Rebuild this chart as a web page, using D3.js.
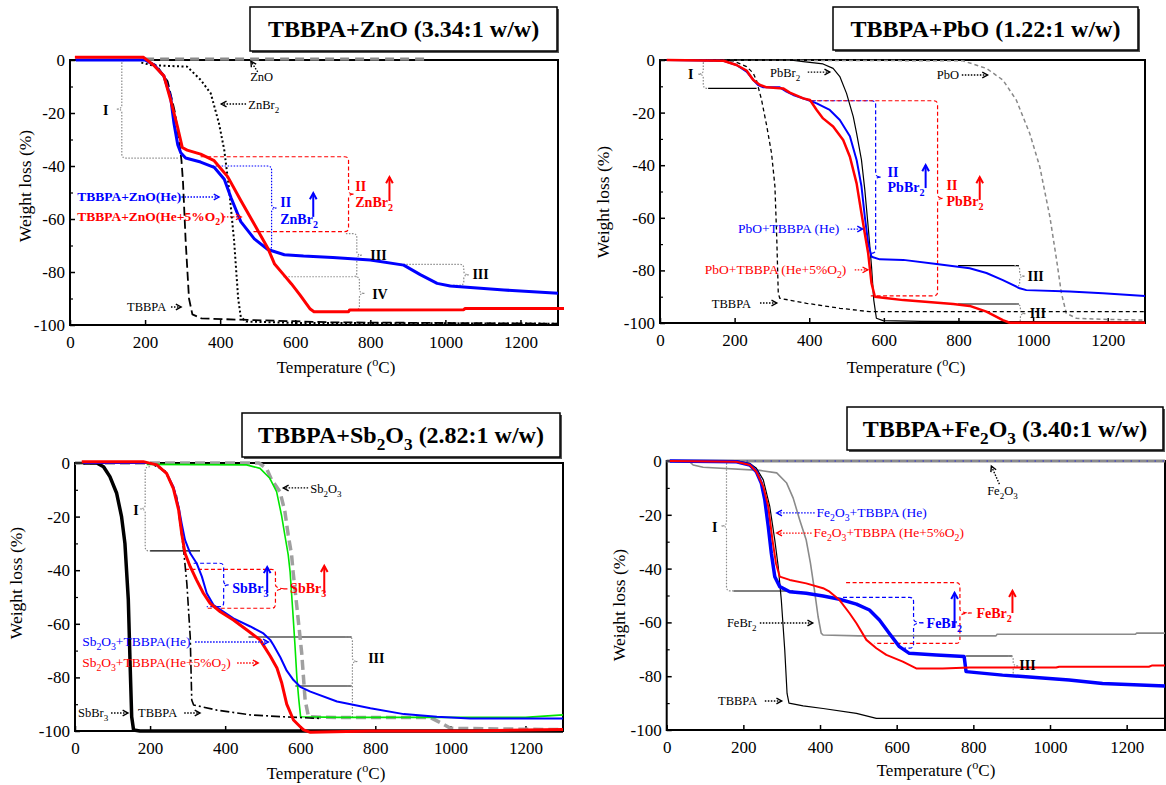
<!DOCTYPE html>
<html><head><meta charset="utf-8">
<script src="https://cdn.jsdelivr.net/npm/d3@7"></script>
<style>body{margin:0;background:#fff}svg{display:block}text{font-family:"Liberation Serif","Times New Roman",serif}</style>
</head><body><svg id="c" width="1166" height="785"></svg>
<script>
// ================= DATA =================
const xTicks = [0,200,400,600,800,1000,1200];
const yTicks = [0,-20,-40,-60,-80,-100];
const yMinor = [-10,-30,-50,-70,-90];
const titles = ["TBBPA+ZnO (3.34:1 w/w)","TBBPA+PbO (1.22:1 w/w)","TBBPA+Sb_2O_3 (2.82:1 w/w)","TBBPA+Fe_2O_3 (3.40:1 w/w)"];
const xLabel = "Temperature (^oC)";
const yLabel = "Weight loss (%)";

// ---- Panel 1: ZnO ----
const zno_he = [[15,0],[200,0],[225,-2],[250,-6],[268,-14],[277,-24],[287,-32],[295,-35],[308,-37],[348,-38.5],[384,-40.5],[411,-45],[429,-52],[455,-61],[491,-67.5],[527,-71.5],[571,-73.5],[622,-74],[700,-74.5],[800,-75.5],[889,-77.4],[933,-81],[978,-84.3],[1013,-85.3],[1156,-86.8],[1300,-88]];
const zno_o2 = [[13,1],[196,1],[223,-2],[250,-6],[268,-15],[286,-25],[299,-33],[312,-34],[348,-35.5],[384,-38],[420,-44],[455,-53],[491,-62],[527,-71],[545,-77],[569,-81],[590,-84.5],[613,-88.7],[640,-94],[650,-95],[742,-95],[745,-94.3],[1049,-94.2],[1052,-93.8],[1316,-93.8]];
const zno_tbbpa = [[0,0],[200,0],[230,-2],[260,-8],[280,-20],[292,-32],[297,-38],[301,-46],[308,-68],[317,-90],[326,-96],[350,-97.5],[450,-98],[700,-99],[1300,-99.5]];
const zno_znbr2 = [[190,-1],[220,-2],[312,-2.5],[348,-7.5],[375,-12.6],[397,-24],[411,-34],[424,-49],[437,-68],[448,-90],[455,-97],[469,-98.7],[600,-99.2],[1300,-99.5]];
const zno_zno = [[200,0.3],[950,0.3]];
const zno_labels = [
 ["ZnO",480,-7.9,'k','s'],["ZnBr_2",475,-18.5,'k','s'],
 ["TBBPA+ZnO(He)",19,-53.2,'b','cb'],["TBBPA+ZnO(He+5%O_2)",19,-60.8,'r','cb'],
 ["TBBPA",152,-94.7,'k','s'],["I",88,-20.8,'k','R'],
 ["II",560,-55.5,'b','R'],["ZnBr_2",560,-61.9,'b','R'],
 ["II",760,-49.4,'r','R'],["ZnBr_2",760,-55.5,'r','R'],
 ["III",800,-75.5,'k','R'],["IV",805,-90.2,'k','R'],["III",1072,-82.6,'k','R']];
const zno_arrows = [[500,-4.5,482,-0.5,'k','d'],[469,-16.6,403,-16.6,'k','d'],[297,-51.7,397,-51.7,'b','d'],[410,-59.2,456,-59.2,'r','d'],[269,-93.2,296,-93.2,'k','d'],[648,-59.2,648,-50.2,'b','s'],[851,-53.2,851,-44.2,'r','s']];
const zno_brackets = [[138,0,-37,160,290,-1,'g'],[537,-40,-71.7,380,525,1,'bdot'],[742,-36.5,-64.8,348,488,1,'rd'],[764,-65.5,-81.8,735,568,1,'g'],[771,-81.8,-94.3,764,740,1,'g'],[1049,-77.1,-85,880,1013,1,'g']];
const zno_refs = [];

// ---- Panel 2: PbO ----
const pbo_he = [[18,0],[170,-0.3],[205,-1.9],[232,-4.4],[250,-7.6],[263,-9.5],[277,-10.4],[321,-10.4],[339,-12],[357,-13.3],[393,-15],[420,-16.5],[455,-19],[482,-22.8],[509,-29],[527,-38],[540,-48],[549,-59.6],[558,-69.7],[567,-74.8],[589,-75.8],[652,-76],[741,-77.6],[830,-79.2],[875,-81],[919,-83.7],[964,-86.8],[982,-87.5],[1098,-88],[1187,-88.7],[1300,-89.7]];
const pbo_o2 = [[18,0],[170,-0.3],[205,-1.9],[232,-4],[250,-7.6],[268,-9.5],[286,-10.4],[330,-10.8],[348,-12.4],[384,-14.6],[402,-15.2],[420,-19],[437,-22.2],[464,-25.3],[491,-30.4],[509,-36.8],[527,-46.9],[540,-58.3],[549,-66],[558,-73.5],[567,-84.9],[576,-90],[598,-90.4],[652,-91.3],[786,-92.8],[830,-93.5],[875,-95.7],[919,-98.9],[937,-99.9],[1300,-99.9]];
const pbo_pbbr2 = [[0,0],[348,0],[384,-0.6],[437,-1.5],[464,-3.2],[482,-6.3],[500,-12.7],[518,-21.5],[527,-27.9],[540,-38],[549,-49.4],[558,-63.4],[567,-78.6],[573,-91.3],[580,-98.2],[598,-99.1],[700,-99.4],[1300,-99.6]];
const pbo_tbbpa = [[0,0],[196,-0.3],[232,-2.5],[250,-5],[259,-8],[272,-15],[286,-25],[299,-35.5],[308,-48],[313,-68],[317,-88.7],[321,-90.6],[393,-92.5],[482,-94.4],[562,-95.7],[1300,-95.7]];
const pbo_pbo = [[0,0],[812,-0.3],[875,-3.2],[919,-7.6],[955,-15.2],[991,-27.9],[1018,-40.6],[1045,-59.6],[1063,-76],[1076,-88.7],[1089,-96.3],[1116,-98.2],[1187,-98.6],[1300,-98.9]];
const pbo_labels = [
 ["PbBr_2",295,-6.5,'k','s'],["PbO",742,-7.2,'k','s'],
 ["PbO+TBBPA (He)",209,-65.8,'b','c'],["PbO+TBBPA (He+5%O_2)",120,-81.4,'r','c'],
 ["TBBPA",139,-94.3,'k','s'],["I",75,-7.2,'k','R'],
 ["II",610,-44.5,'b','R'],["PbBr_2",610,-50.2,'b','R'],
 ["II",768,-49.4,'r','R'],["PbBr_2",768,-55.5,'r','R'],
 ["III",985,-84,'k','R'],["III",991,-98.1,'k','R']];
const pbo_arrows = [[396,-4.6,455,-4.6,'k','d'],[809,-5.7,878,-5.7,'k','d'],[503,-64.3,543,-64.3,'b','d'],[522,-79.8,557,-79.8,'r','d'],[268,-92.4,313,-92.4,'k','d'],[712,-48.7,712,-40,'b','s'],[857,-53.2,857,-44.5,'r','s']];
const pbo_brackets = [[116,0,-10.8,130,130,-1,'g'],[578,-15.5,-73.5,407,560,1,'bd'],[744,-15.5,-89.7,403,565,1,'rd'],[964,-78.2,-86.2,950,955,1,'g'],[966,-92.8,-100,955,955,1,'g']];
const pbo_refs = [[129,-10.8,259,-10.8,'k'],[799,-78.2,962,-78.2,'k'],[799,-92.8,962,-92.8,'k']];

// ---- Panel 3: Sb2O3 ----
const sb_sbbr3 = [[22,0],[58,0],[76,-1.4],[93,-5.1],[111,-11.3],[124,-20],[133,-30],[142,-51],[147,-76],[151,-94.7],[156,-99.6],[173,-100],[1300,-100]];
const sb_he = [[22,0],[191,0],[218,-0.7],[244,-3.9],[262,-8.8],[276,-16.3],[284,-22.5],[293,-28.7],[307,-33.7],[324,-37.4],[338,-42.4],[351,-48.6],[369,-53],[396,-55.5],[422,-58],[467,-61],[502,-63.6],[520,-66],[529,-68],[547,-72.5],[564,-77.5],[582,-81],[600,-83.5],[627,-85.3],[698,-89],[787,-91.5],[876,-93.7],[964,-94.7],[1053,-95.3],[1300,-95.3]];
const sb_o2 = [[18,0.5],[182,0.5],[218,-0.7],[244,-3.9],[262,-9.5],[276,-17.5],[284,-26],[293,-33.7],[307,-38.7],[324,-43.7],[342,-48.6],[360,-52.4],[387,-55.5],[422,-58.6],[458,-62.3],[493,-66],[520,-72],[538,-76.5],[551,-82.2],[564,-90],[582,-95.9],[600,-98.4],[609,-99.6],[627,-100.5],[787,-100],[1053,-100],[1300,-99.4]];
const sb_tbbpa = [[0,0],[200,0],[240,-3],[270,-12],[289,-32],[298,-45],[307,-65],[311,-88.4],[316,-90.3],[378,-92.2],[467,-94],[556,-94.7],[650,-95.3]];
const sb_green = [[191,-0.5],[457,-0.7],[493,-2],[519,-5.7],[537,-10.7],[550,-19.4],[559,-26.9],[568,-34.3],[573,-40.6],[580,-55],[586,-68],[591,-80],[596,-88],[601,-94.7],[700,-94.9],[1200,-94.9],[1300,-94]];
const sb_sb2o3 = [[0,0],[490,0],[510,-2],[524,-6.3],[546,-10.7],[559,-18],[568,-26.9],[577,-34.3],[581,-40.6],[591,-53.6],[604,-71],[613,-88.4],[622,-94.7],[700,-95],[947,-95],[975,-97],[1000,-99],[1300,-99.5]];
const sb_labels = [
 ["Sb_2O_3",627,-11.2,'k','s'],
 ["Sb_2O_3+TBBPA(He)",19,-68.3,'b','c'],["Sb_2O_3+TBBPA(He+5%O_2)",19,-76.1,'r','c'],
 ["SbBr_3",8,-94.8,'k','s'],["TBBPA",168,-94.8,'k','s'],["I",155,-19.4,'k','R'],
 ["SbBr_3",419,-48.5,'b','R'],["SbBr_3",573,-48.5,'r','R'],["III",781,-74.6,'k','R']];
const sb_arrows = [[621,-9.3,555,-9.3,'k','d'],[320,-66.8,515,-66.8,'b','d'],[432,-74.6,488,-74.6,'r','d'],[96,-93.3,141,-93.3,'k','d'],[291,-93.3,333,-93.3,'k','d'],[512,-48.5,512,-38.8,'b','s'],[664,-48.5,664,-38.4,'r','s']];
const sb_brackets = [[187,-1.4,-32.8,200,200,-1,'g'],[396,-37.4,-53.6,316,351,1,'bd'],[534,-39.7,-54.2,293,351,1,'rd',12],[739,-64.9,-83.2,720,720,1,'g']];
const sb_refs = [[200,-32.8,333,-32.8,'k'],[462,-64.9,737,-64.9,'k'],[587,-83.2,737,-83.2,'k'],[739,-83.2,739,-95,'g']];

// ---- Panel 4: Fe2O3 ----
const fe_he = [[8,0],[182,-0.3],[217,-1.5],[234,-4],[247,-8.3],[256,-14.5],[265,-24.4],[273,-34.3],[282,-43],[295,-46.7],[321,-48.6],[364,-49.2],[408,-50.2],[451,-51.4],[495,-53.2],[529,-55.4],[555,-59.1],[581,-64.1],[607,-69],[633,-71.5],[703,-72.1],[776,-72.7],[781,-78.3],[876,-79.6],[963,-80.5],[1050,-81.4],[1137,-82.7],[1300,-83.6]];
const fe_o2 = [[8,0],[182,-0.3],[217,-1.5],[234,-4],[252,-9.5],[265,-17],[276,-29.4],[285,-38],[295,-43],[321,-44.2],[364,-45.5],[408,-47.3],[425,-48.6],[451,-51.7],[477,-56.6],[495,-60.3],[521,-66.5],[547,-69.6],[573,-72.1],[616,-74.6],[651,-77.1],[720,-77.1],[790,-76.8],[1016,-76.8],[1024,-76.5],[1258,-76.5],[1267,-76],[1300,-76]];
const fe_febr2 = [[0,0],[61,-0.4],[69,-1.5],[95,-2.3],[243,-3.5],[287,-4.4],[313,-8.2],[330,-13.8],[347,-21.9],[364,-29.4],[375,-38],[385,-47.5],[395,-57.9],[403,-64],[408,-64.7],[500,-65],[859,-65],[862,-64.4],[1223,-64.4],[1226,-64],[1300,-64]];
const fe_tbbpa = [[0,0],[182,0],[217,-0.9],[234,-2.7],[252,-7],[269,-17],[282,-29.4],[291,-39.3],[299,-51.7],[308,-70.3],[314,-86.4],[319,-90],[356,-91],[408,-92],[495,-93.8],[547,-95.7],[1300,-95.7]];
const fe_fe2o3 = [[0,0],[1300,0]];
const fe_labels = [
 ["Fe_2O_3",836,-12.6,'k','s'],
 ["Fe_2O_3+TBBPA (He)",391,-20.8,'b','c'],["Fe_2O_3+TBBPA (He+5%O_2)",383,-28.3,'r','c'],
 ["FeBr_2",157,-61.7,'k','s'],["TBBPA",134,-90.7,'k','s'],["I",118,-26.4,'k','R'],
 ["FeBr_2",678,-62.1,'b','R'],["FeBr_2",808,-58.4,'r','R'],["III",920,-77.7,'k','R']];
const fe_arrows = [[868,-8.6,847,-1.9,'k','d'],[386,-19.3,287,-19.3,'b','d'],[378,-26.8,287,-26.8,'r','d'],[243,-60.2,381,-60.2,'k','d'],[256,-89.2,300,-89.2,'k','d'],[751,-62,751,-49,'b','s'],[902,-56.5,902,-48.3,'r','s']];
const fe_brackets = [[156,0,-48.3,170,174,-1,'g'],[644,-50.7,-69.6,460,620,1,'bd',10],[765,-45.2,-67.8,468,542,1,'rd',12],[904,-72.5,-79.9,890,890,1,'g']];
const fe_refs = [[174,-48.3,330,-48.3,'k'],[781,-72.5,902,-72.5,'k']];

// ================= STYLE / LAYOUT =================
const FONT = '"Liberation Serif","Times New Roman",serif';
const colors = {k:'#000', b:'#0000ff', r:'#ff0000', g:'#999'};
const labelKinds = {s:{size:12.5,weight:'normal'}, c:{size:13.5,weight:'normal'}, cb:{size:13.5,weight:'bold'}, R:{size:14,weight:'bold'}};
const bracketStyles = {g:{c:'#8c8c8c',d:'1.5,1.5'}, bdot:{c:'#0000ff',d:'1.5,1.5'}, bd:{c:'#0000ff',d:'4,2.5'}, rd:{c:'#ff0000',d:'4,2.5'}};
const BLUE='#0000ff', RED='#ff0000';

const panels = [
 {frame:[70,558,60,325], title:titles[0], tbox:[250,7,557,51], xl:[336,367], yl:[25,186],
  series:[[zno_zno,{c:'#8a8a8a',w:3.2,d:'9,6'}],[zno_tbbpa,{c:'#000',w:1.8,d:'9,4'}],[zno_znbr2,{c:'#000',w:2,d:'2,2.5'}],[zno_he,{c:BLUE,w:3}],[zno_o2,{c:RED,w:3}]],
  labels:zno_labels, arrows:zno_arrows, brackets:zno_brackets, refs:zno_refs},
 {frame:[660,1145,60,323], title:titles[1], tbox:[833,7,1138,50], xl:[906,367], yl:[603,202],
  series:[[pbo_pbo,{c:'#888',w:1.5,d:'4,3'}],[pbo_tbbpa,{c:'#000',w:1.3,d:'4,3'}],[pbo_pbbr2,{c:'#000',w:1.2}],[pbo_he,{c:BLUE,w:2}],[pbo_o2,{c:RED,w:2.5}]],
  labels:pbo_labels, arrows:pbo_arrows, brackets:pbo_brackets, refs:pbo_refs},
 {frame:[75,563,463,731], title:titles[2], tbox:[242,413,560,457], xl:[326,773], yl:[16,583],
  series:[[sb_sb2o3,{c:'#a0a0a0',w:3.5,d:'10,5'}],[sb_green,{c:'#00e600',w:1.6}],[sb_tbbpa,{c:'#000',w:1.6,d:'9,3,2,3'}],[sb_sbbr3,{c:'#000',w:3.5}],[sb_he,{c:BLUE,w:2}],[sb_o2,{c:RED,w:3}]],
  labels:sb_labels, arrows:sb_arrows, brackets:sb_brackets, refs:sb_refs},
 {frame:[666.7,1165,461,730], title:titles[3], tbox:[847,407,1163,450], xl:[936,770], yl:[619,605],
  series:[[fe_fe2o3,{c:'#8a8a8a',w:3.2}],[fe_fe2o3,{c:BLUE,w:1,d:'1,7'}],[fe_febr2,{c:'#8a8a8a',w:1.6}],[fe_tbbpa,{c:'#000',w:1.2}],[fe_he,{c:BLUE,w:3.5}],[fe_o2,{c:RED,w:2}]],
  labels:fe_labels, arrows:fe_arrows, brackets:fe_brackets, refs:fe_refs}
];

// ================= RENDER =================
const svg = d3.select('#c');

function rich(t, str, size){
  const parts = str.split(/(_\d+|\^o)/).filter(s=>s.length);
  let st = 0;
  parts.forEach(p=>{
    if(p[0]==='_'){ t.append('tspan').attr('dy',size*0.3).attr('font-size',size*0.72).text(p.slice(1)); st=1; }
    else if(p[0]==='^'){ t.append('tspan').attr('dy',-size*0.4).attr('font-size',size*0.72).text(p.slice(1)); st=2; }
    else { const s=t.append('tspan').text(p); if(st===1) s.attr('dy',-size*0.3); if(st===2) s.attr('dy',size*0.4); st=0; }
  });
}
function txt(g,str,x,y,size,weight,color,anchor){
  const t=g.append('text').attr('x',x).attr('y',y).attr('font-size',size).attr('font-weight',weight||'normal')
    .attr('fill',color||'#000').attr('text-anchor',anchor||'start').attr('font-family',FONT);
  rich(t,str,size); return t;
}

panels.forEach(p=>{
  const [x0,x1,y0,y1]=p.frame;
  const x=d3.scaleLinear().domain([0,1300]).range([x0,x1]);
  const y=d3.scaleLinear().domain([-100,0]).range([y1,y0]);
  const g=svg.append('g');

  // title box
  const [bx0,by0,bx1,by1]=p.tbox;
  g.append('rect').attr('x',bx0+2).attr('y',by0+2).attr('width',bx1-bx0).attr('height',by1-by0).attr('fill','#555');
  g.append('rect').attr('x',bx0).attr('y',by0).attr('width',bx1-bx0).attr('height',by1-by0).attr('fill','#fff').attr('stroke','#000').attr('stroke-width',1.5);
  txt(g,p.title,(bx0+bx1)/2,(by0+by1)/2+8,24,'bold','#000','middle');

  // axes
  const gx=g.append('g').attr('transform',`translate(0,${y1})`)
    .call(d3.axisBottom(x).tickValues(xTicks).tickSize(-5).tickPadding(11).tickFormat(d=>String(d)));
  gx.attr('font-size',17).attr('font-family',FONT); gx.select('.domain').remove();
  gx.selectAll('line').attr('stroke-width',1.5);
  const gy=g.append('g').attr('transform',`translate(${x0},0)`)
    .call(d3.axisLeft(y).tickValues(yTicks).tickSize(-5).tickPadding(5).tickFormat(d=>String(d)));
  gy.attr('font-size',17).attr('font-family',FONT); gy.select('.domain').remove();
  gy.selectAll('line').attr('stroke-width',1.5);
  const gm=g.append('g').attr('transform',`translate(${x0},0)`)
    .call(d3.axisLeft(y).tickValues(yMinor).tickSize(-3).tickFormat(''));
  gm.select('.domain').remove(); gm.selectAll('line').attr('stroke-width',1.2);

  g.append('rect').attr('x',x0).attr('y',y0).attr('width',x1-x0).attr('height',y1-y0)
    .attr('fill','none').attr('stroke','#000').attr('stroke-width',2);

  // axis titles
  txt(g,xLabel,p.xl[0],p.xl[1]+6,17,'normal','#000','middle');
  const yt=g.append('text').attr('transform',`translate(${p.yl[0]},${p.yl[1]}) rotate(-90)`)
    .attr('x',0).attr('y',6).attr('text-anchor','middle').attr('font-size',17.5).attr('font-family',FONT);
  rich(yt,yLabel,17.5);

  // reference lines
  p.refs.forEach(r=>{
    const l=g.append('line').attr('x1',x(r[0])).attr('y1',y(r[1])).attr('x2',x(r[2])).attr('y2',y(r[3]))
      .attr('stroke',r[4]==='g'?'#8c8c8c':colors[r[4]]).attr('stroke-width',r[4]==='g'?1.2:1.1);
    if(r[4]==='g') l.attr('stroke-dasharray','1.5,1.5');
  });

  // brackets
  p.brackets.forEach(b=>{
    const [Tv,Wt,Wb,Tt,Tb,s,key,nl0]=b; const st=bracketStyles[key];
    const xv=x(Tv), yt_=y(Wt), yb=y(Wb), xt=x(Tt), xb=x(Tb), ym=(yt_+yb)/2, r=4, nl=nl0||5;
    const path=`M${xt},${yt_}L${xv-s*r},${yt_}Q${xv},${yt_} ${xv},${yt_+r}L${xv},${ym-r}Q${xv},${ym} ${xv+s*nl},${ym}`+
      `M${xv+s*nl},${ym}Q${xv},${ym} ${xv},${ym+r}L${xv},${yb-r}Q${xv},${yb} ${xv-s*r},${yb}L${xb},${yb}`;
    g.append('path').attr('d',path).attr('fill','none').attr('stroke',st.c).attr('stroke-width',1.2).attr('stroke-dasharray',st.d);
  });

  // series
  const line=d3.line().x(d=>x(d[0])).y(d=>y(d[1]));
  p.series.forEach(([data,st])=>{
    const pth=g.append('path').datum(data).attr('d',line).attr('fill','none').attr('stroke',st.c)
      .attr('stroke-width',st.w).attr('stroke-linejoin','round');
    if(st.d) pth.attr('stroke-dasharray',st.d);
  });

  // arrows
  p.arrows.forEach(a=>{
    const [T1,W1,T2,W2,ck,kind]=a; const c=colors[ck];
    const X1=x(T1),Y1=y(W1),X2=x(T2),Y2=y(W2);
    const solid=kind==='s';
    g.append('line').attr('x1',X1).attr('y1',Y1).attr('x2',X2).attr('y2',Y2).attr('stroke',c)
      .attr('stroke-width',solid?2:1.4).attr('stroke-dasharray',solid?null:'1.5,1.5');
    const ang=Math.atan2(Y2-Y1,X2-X1), L=solid?7:6, sp=0.5;
    g.append('path').attr('d',`M${X2-L*Math.cos(ang-sp)},${Y2-L*Math.sin(ang-sp)}L${X2},${Y2}L${X2-L*Math.cos(ang+sp)},${Y2-L*Math.sin(ang+sp)}`)
      .attr('fill','none').attr('stroke',c).attr('stroke-width',solid?2:1.4);
  });

  // labels
  p.labels.forEach(l=>{
    const k=labelKinds[l[4]];
    txt(g,l[0],x(l[1]),y(l[2]),k.size,k.weight,colors[l[3]],'start');
  });
});
</script></body></html>
